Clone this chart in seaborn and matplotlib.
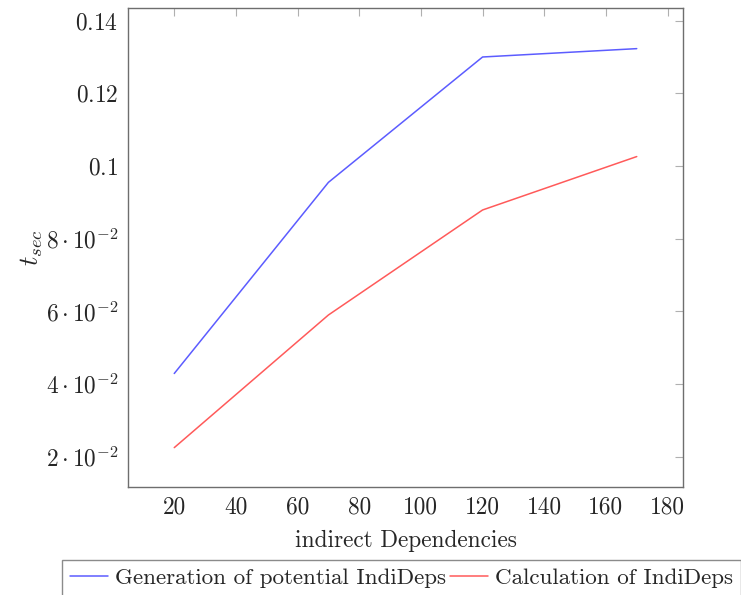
import matplotlib
matplotlib.use("Agg")
import matplotlib.pyplot as plt
import seaborn as sns
import pandas as pd

x_values = [20, 70, 120, 170]
generation = [0.0429, 0.0955, 0.1300, 0.1323]
calculation = [0.0225, 0.0590, 0.0879, 0.1026]
series_names = ["Generation of potential IndiDeps", "Calculation of IndiDeps"]
x_ticks = [20, 40, 60, 80, 100, 120, 140, 160, 180]
y_ticks = [0.02, 0.04, 0.06, 0.08, 0.10, 0.12, 0.14]
y_tick_labels = [r"$2\cdot10^{-2}$", r"$4\cdot10^{-2}$", r"$6\cdot10^{-2}$",
                 r"$8\cdot10^{-2}$", r"$0.1$", r"$0.12$", r"$0.14$"]
x_label = "indirect Dependencies"
y_label = r"$t_{sec}$"

sns.set_style("white")
plt.rcParams["font.family"] = ["cmr10", "DejaVu Serif"]
plt.rcParams["mathtext.fontset"] = "cm"
plt.rcParams["axes.unicode_minus"] = False
plt.rcParams["axes.formatter.use_mathtext"] = True

FS = 16.8

df = pd.DataFrame({
    "x": x_values * 2,
    "y": generation + calculation,
    "series": [series_names[0]] * len(x_values) + [series_names[1]] * len(x_values),
})

fig = plt.figure(figsize=(7.41, 5.95), dpi=100)
ax = fig.add_axes([128 / 741, 1 - 486.7 / 595, (683 - 128) / 741, (486.7 - 8.3) / 595])

sns.lineplot(data=df, x="x", y="y", hue="series",
             palette=["#5c5cff", "#ff5a5a"], linewidth=1.1, ax=ax, legend=False)

ax.set_xlim(5, 185)
ax.set_ylim(0.01175, 0.1434)
ax.set_xticks(x_ticks)
ax.set_xticklabels([str(t) for t in x_ticks], fontsize=FS)
ax.set_yticks(y_ticks)
ax.set_yticklabels(y_tick_labels, fontsize=FS)
ax.tick_params(axis="both", direction="in", length=6, width=0.8, color="#b0b0b0",
               top=True, right=True, pad=7)
for s in ax.spines.values():
    s.set_color("#6e6e6e")
    s.set_linewidth(1.0)
ax.set_xlabel(x_label, fontsize=FS, labelpad=8)
ax.set_ylabel(y_label, fontsize=19)
ax.yaxis.set_label_coords(-0.15, 0.5)

handles = [plt.Line2D([], [], color="#5c5cff", lw=1.1),
           plt.Line2D([], [], color="#ff5a5a", lw=1.1)]
leg = fig.legend(handles, series_names, loc="upper left",
                 bbox_to_anchor=(62 / 741, 1 - 560 / 595), ncol=2,
                 fontsize=16.6, frameon=True, fancybox=False, handlelength=1.66,
                 handletextpad=0.3, columnspacing=0.15, borderpad=0.35,
                 borderaxespad=0)
leg.get_frame().set_edgecolor("#6e6e6e")
leg.get_frame().set_linewidth(1.0)

fig.savefig("out.png", dpi=100)
